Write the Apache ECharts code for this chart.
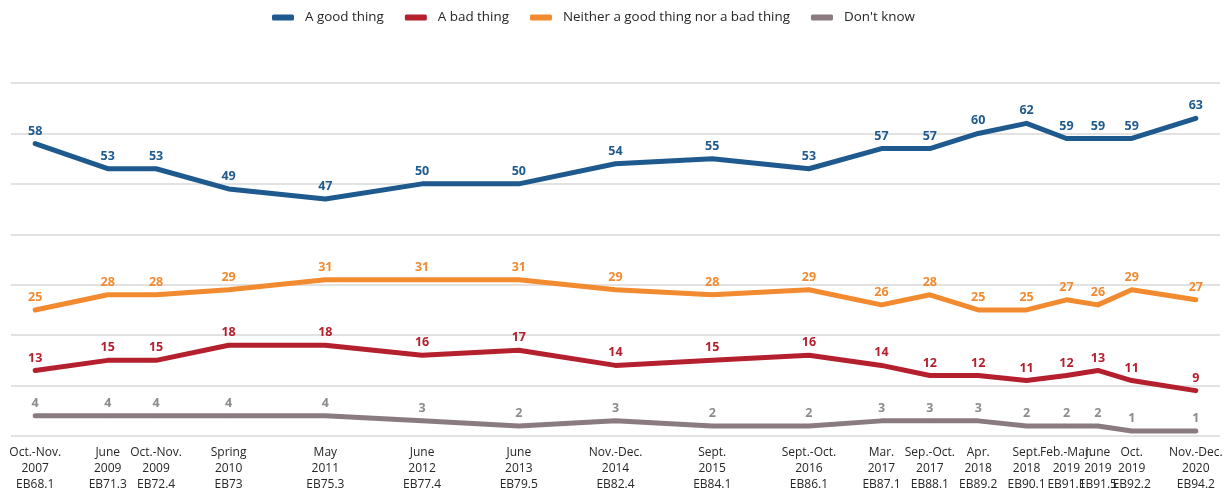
<!DOCTYPE html>
<html>
<head>
<meta charset="utf-8">
<script src="https://cdn.jsdelivr.net/npm/echarts@6.0.0/dist/echarts.min.js"></script>
<style>
  html, body { margin: 0; padding: 0; background: #fff; }
  #chart { width: 1227px; height: 493px; }
</style>
</head>
<body>
<div id="chart"></div>
<script>
// survey waves (x axis labels, three lines each)
var periods = ['Oct.-Nov.', 'June', 'Oct.-Nov.', 'Spring', 'May', 'June', 'June', 'Nov.-Dec.', 'Sept.',
    'Sept.-Oct.', 'Mar.', 'Sep.-Oct.', 'Apr.', 'Sept.', 'Feb.-Mar.', 'June', 'Oct.', 'Nov.-Dec.'];
var years = ['2007', '2009', '2009', '2010', '2011', '2012', '2013', '2014', '2015',
    '2016', '2017', '2017', '2018', '2018', '2019', '2019', '2019', '2020'];
var waves = ['EB68.1', 'EB71.3', 'EB72.4', 'EB73', 'EB75.3', 'EB77.4', 'EB79.5', 'EB82.4', 'EB84.1',
    'EB86.1', 'EB87.1', 'EB88.1', 'EB89.2', 'EB90.1', 'EB91.1', 'EB91.5', 'EB92.2', 'EB94.2'];
// where each wave sits on the chart's timeline
var timeline = [0, 3, 5, 8, 12, 16, 20, 24, 28, 32, 35, 37, 39, 41, 42.65, 43.95, 45.35, 48];

var goodThing = [58, 53, 53, 49, 47, 50, 50, 54, 55, 53, 57, 57, 60, 62, 59, 59, 59, 63];
var badThing = [13, 15, 15, 18, 18, 16, 17, 14, 15, 16, 14, 12, 12, 11, 12, 13, 11, 9];
var neither = [25, 28, 28, 29, 31, 31, 31, 29, 28, 29, 26, 28, 25, 25, 27, 26, 29, 27];
var dontKnow = [4, 4, 4, 4, 4, 3, 2, 3, 2, 2, 3, 3, 3, 2, 2, 2, 1, 1];

var font = "'Open Sans', 'Noto Sans', sans-serif";

function pairs(values) {
    return values.map(function (v, i) { return [timeline[i], v]; });
}

function makeSeries(name, values, color, labelColor) {
    return {
        name: name,
        type: 'line',
        data: pairs(values),
        symbol: 'circle',
        symbolSize: 2,
        showSymbol: true,
        lineStyle: { width: 5, color: color, join: 'round', cap: 'round' },
        itemStyle: { color: color },
        label: {
            show: true,
            position: 'top',
            distance: 5,
            color: labelColor || color,
            fontFamily: font,
            fontWeight: 'bold',
            fontSize: 12.5,
            formatter: function (p) { return p.value[1]; }
        },
        emphasis: { disabled: true },
        animation: false
    };
}

var chart = echarts.init(document.getElementById('chart'));

var option = {
    backgroundColor: '#fff',
    legend: {
        left: 267,
        top: 6,
        itemWidth: 22,
        itemHeight: 6,
        itemGap: 21,
        icon: 'roundRect',
        textStyle: { fontFamily: font, fontSize: 13.4, color: '#262626', padding: [0, 0, 0, 6] },
        data: ['A good thing', 'A bad thing', 'Neither a good thing nor a bad thing', "Don't know"]
    },
    grid: { left: 11, right: 7, top: 83, bottom: 57 },
    xAxis: {
        type: 'value',
        min: -1,
        max: 49,
        splitLine: { show: false },
        axisLine: { show: false },
        axisTick: { show: false },
        axisLabel: {
            customValues: timeline,
            margin: 9,
            fontFamily: font,
            fontSize: 12,
            lineHeight: 16,
            color: '#262626',
            formatter: function (v) {
                var i = timeline.indexOf(v);
                if (i < 0) return '';
                return periods[i] + '\n' + years[i] + '\n' + waves[i];
            }
        }
    },
    yAxis: {
        type: 'value',
        min: 0,
        max: 70,
        interval: 10,
        axisLabel: { show: false },
        axisLine: { show: false },
        axisTick: { show: false },
        splitLine: { lineStyle: { color: '#d9d9d9', width: 1.5 } }
    },
    series: [
        makeSeries('A good thing', goodThing, '#1F5A8E'),
        makeSeries('A bad thing', badThing, '#B5202E'),
        makeSeries('Neither a good thing nor a bad thing', neither, '#F28A30'),
        makeSeries("Don't know", dontKnow, '#8A7B80', '#8C8C8C')
    ]
};

chart.setOption(option);
</script>
</body>
</html>
